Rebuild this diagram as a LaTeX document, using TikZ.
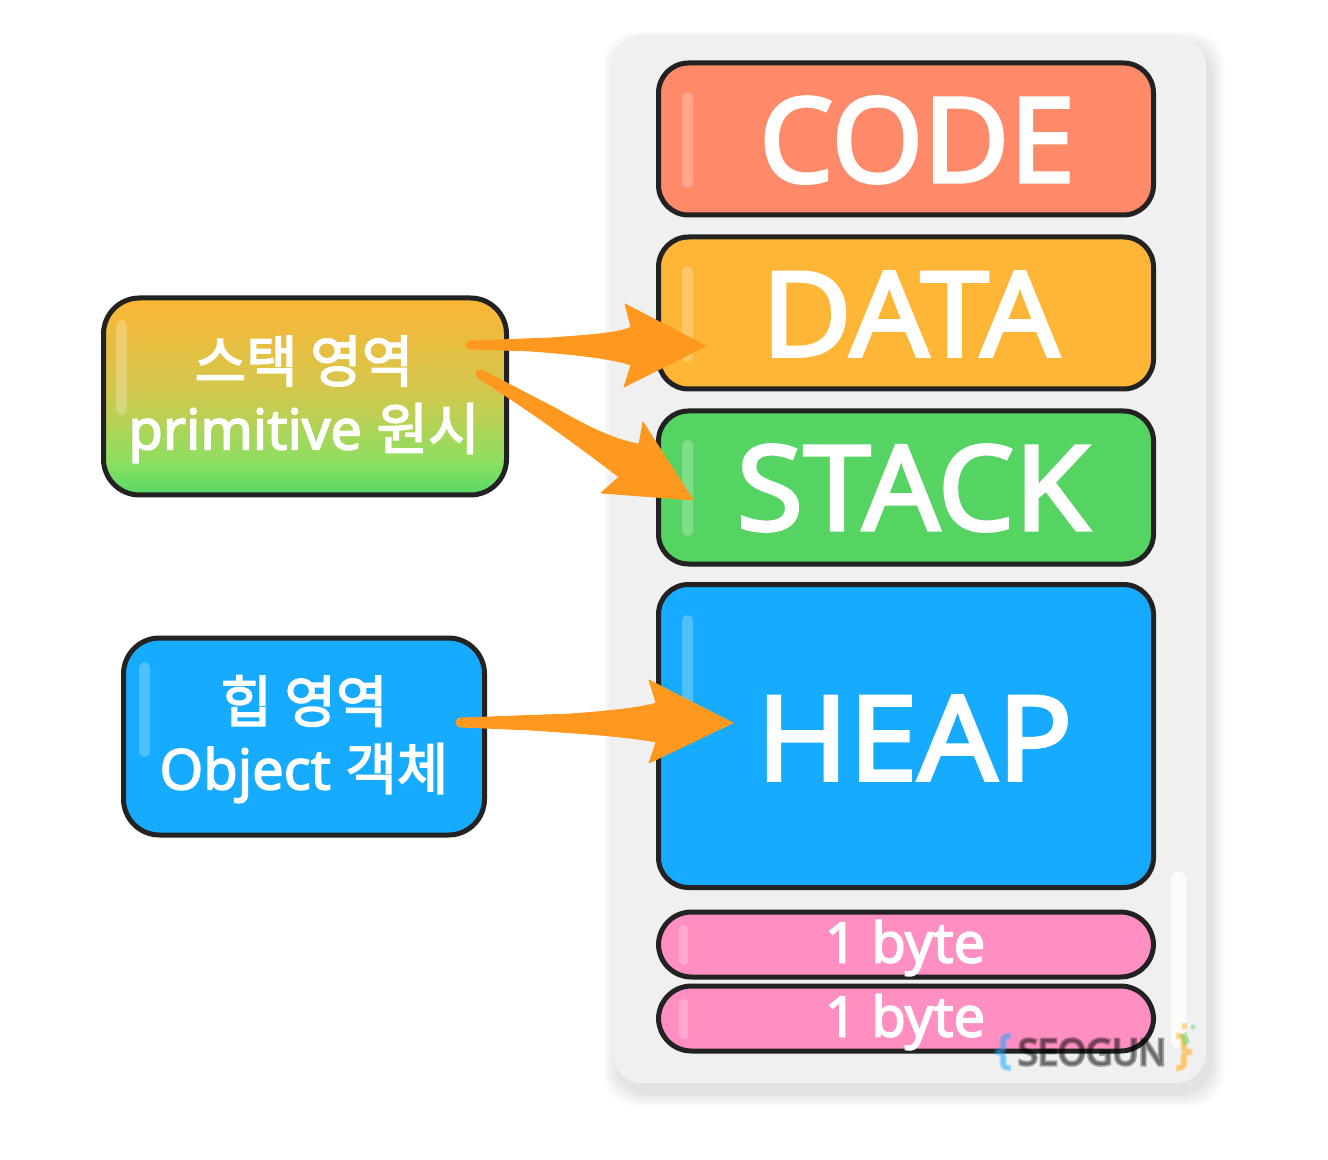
\documentclass[tikz,border=0pt]{standalone}
\usepackage{fontspec}
\usetikzlibrary{calc}
\setmainfont{Noto Sans}[FakeBold=2.6]
\newfontfamily\krf{Noto Sans CJK KR}[FakeBold=2.8]
\newfontfamily\wmfont{Noto Sans}[FakeBold=9]
\definecolor{strokec}{HTML}{222222}
\definecolor{panelc}{HTML}{F0F0F0}
\definecolor{codec}{HTML}{FF8A69}
\definecolor{datac}{HTML}{FFB636}
\definecolor{stackc}{HTML}{55D463}
\definecolor{heapc}{HTML}{17ABFF}
\definecolor{bytec}{HTML}{FF8FC1}
\definecolor{arrowc}{HTML}{FF981F}
\definecolor{g1}{HTML}{FDB535}
\definecolor{g2}{HTML}{CFC94F}
\definecolor{g3}{HTML}{8AE061}
\definecolor{g4}{HTML}{5CD966}
\pgfdeclareverticalshading{stackgrad}{100bp}{color(0bp)=(g4); color(26bp)=(g4); color(33bp)=(g3); color(50bp)=(g2); color(75bp)=(g1); color(100bp)=(g1)}
\tikzset{
  box/.style={draw=strokec,line width=2.5pt,rounded corners=15pt,inner sep=0pt,outer sep=0pt},
  sidebox/.style={box,rounded corners=18pt},
  bytebox/.style={box,rounded corners=16.5pt,fill=bytec},
  shine/.style={fill=white,fill opacity=.24,rounded corners=2.7pt},
  bigtext/.style={text=white,font=\fontsize{59}{59}\selectfont,inner sep=0pt},
  midtext/.style={text=white,font=\fontsize{28}{28}\selectfont,inner sep=0pt},
  fatarrow/.style={fill=arrowc,line join=round,draw=arrowc,line width=.4pt},
}
\begin{document}
\begin{tikzpicture}[x=0.5pt,y=-0.5pt]
\useasboundingbox (0,0) rectangle (1328,1160);
% panel shadow
\foreach \g in {1,...,14}{
  \fill[black,opacity=.008,rounded corners=17pt] (612-\g+5,35-\g+10) rectangle (1206+\g+5,1083+\g+10);
}
\fill[panelc,rounded corners=15pt] (612,35) rectangle (1206,1083);
\fill[white,opacity=.85,rounded corners=3.5pt] (1171,872) rectangle (1186,1048);

% stacked boxes
\node[box,fill=codec,minimum width=247.5pt,minimum height=76pt] (code) at (906,139) {};
\node[box,fill=datac,minimum width=247.5pt,minimum height=76pt] (data) at (906,313) {};
\node[box,fill=stackc,minimum width=247.5pt,minimum height=76.5pt] (stack) at (906,487.5) {};
\node[box,fill=heapc,minimum width=247.5pt,minimum height=151.5pt] (heap) at (906,736) {};
\node[bytebox,minimum width=247.5pt,minimum height=32.5pt] (byteA) at (906,944.5) {};
\node[bytebox,minimum width=247.5pt,minimum height=32.5pt] (byteB) at (906,1018.5) {};

% highlights
\fill[shine] (682,92) rectangle (693,188);
\fill[shine] (682,266) rectangle (693,362);
\fill[shine] (682,440) rectangle (693,536);
\fill[shine] (682,615) rectangle (693,711);
\fill[shine,rounded corners=2.2pt] (679,925) rectangle (688,965);
\fill[shine,rounded corners=2.2pt] (679,999) rectangle (688,1039);

% labels
\node[bigtext] (codet) at (917,140) {CODE};
\node[bigtext] (datat) at (910.5,314) {\scalebox{1.05}[1]{DATA}};
\node[bigtext] (stackt) at (913,488) {\scalebox{1.03}[1]{STACK}};
\node[bigtext] (heapt) at (914.5,738) {\scalebox{1.055}[1]{HEAP}};
\node[midtext] (byteAt) at (905,948) {1 byte};
\node[midtext] (byteBt) at (905,1022) {1 byte};

% side boxes
\node[sidebox,shade,shading=stackgrad,minimum width=201.5pt,minimum height=98.5pt] (side) at (305,396.5) {};
\node[sidebox,fill=heapc,minimum width=180.5pt,minimum height=98.5pt] (sideh) at (304,736.5) {};
\fill[shine] (116,320) rectangle (127,415);
\fill[shine] (139,662) rectangle (150,757);
\node[midtext] (s1) at (304,361) {\krf 스택 영역};
\node[midtext] (s2) at (304,433) {primitive {\krf 원시}};
\node[midtext] (h1) at (304,701) {\krf 힙 영역};
\node[midtext] (h2) at (304,773) {Object {\krf 객체}};

% arrows
\coordinate (a1s) at (470,345);
\coordinate (a1e) at (706,346);
\coordinate (a2s) at (481,374);
\coordinate (a2e) at (693,500);
\coordinate (a3s) at (460,722);
\coordinate (a3e) at (733,723);
\draw[fatarrow] ($(a1s)+(0,-4)$) -- (550,338) .. controls (590,335) and (620,333) .. (631,327) -- (625,304) -- (a1e) -- (624,387) -- (631,365) .. controls (610,358) and (570,354) .. (530,351) -- ($(a1s)+(0,4)$) .. controls (465,349) and (465,341) .. ($(a1s)+(0,-4)$) -- cycle;
\draw[fatarrow] (482,370) -- (555,408) .. controls (590,428) and (615,440) .. (639,444) -- (643,422) -- (a2e) -- (601,493) -- (619,477) .. controls (590,455) and (540,417) .. (478,378) .. controls (474,374) and (477,369) .. (482,370) -- cycle;
\draw[fatarrow] ($(a3s)+(0,-4)$) -- (570,714) .. controls (610,711) and (640,708) .. (656,703) -- (649,680) -- (a3e) -- (649,763) -- (656,742) .. controls (630,737) and (590,734) .. (530,730) -- ($(a3s)+(0,5)$) .. controls (455,727) and (455,718) .. ($(a3s)+(0,-4)$) -- cycle;

% watermark
\node[text=black,opacity=.33,inner sep=0pt,font=\wmfont\fontsize{18}{18}\selectfont] (wm) at (1092,1052) {SEOGUN};
\node[text=heapc,opacity=.35,inner sep=0pt,font=\wmfont\fontsize{20}{20}\selectfont] (wml) at (1003,1052) {\{};
\node[text=datac,opacity=.45,inner sep=0pt,font=\wmfont\fontsize{20}{20}\selectfont] (wmr) at (1184,1052) {\}};
\fill[stackc,opacity=.45] (1180,1035) -- (1186,1032) -- (1190,1042) -- (1184,1046) -- cycle;
\fill[datac,opacity=.5] (1182,1023) rectangle (1187,1029);
\fill[stackc,opacity=.45] (1193,1027) circle (2.5);
\end{tikzpicture}
\end{document}
